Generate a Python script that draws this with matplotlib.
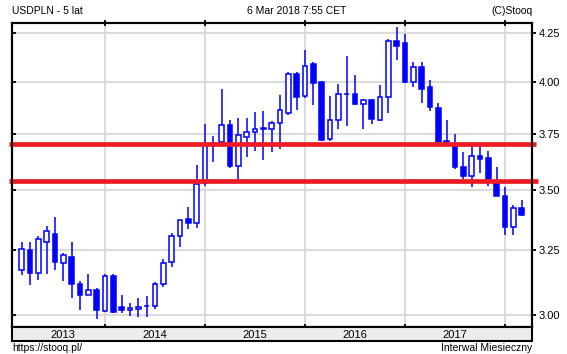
import numpy as np
import pandas as pd
import matplotlib
matplotlib.use('Agg')
import matplotlib.pyplot as plt
from matplotlib.patches import Rectangle
from matplotlib.ticker import FixedLocator, NullLocator, NullFormatter, FormatStrFormatter

plt.rcParams['font.family'] = ['Liberation Sans', 'DejaVu Sans']

# monthly USDPLN candles, Mar 2013 - Mar 2018
months = pd.date_range('2013-03-01', periods=61, freq='MS')
opens = [3.172, 3.249, 3.161, 3.283, 3.317, 3.199, 3.222, 3.118, 3.075, 3.092,
         3.013, 3.149, 3.030, 3.017, 3.020, 3.032, 3.032, 3.118, 3.201, 3.308,
         3.376, 3.359, 3.530, 3.700, 3.717, 3.793, 3.605, 3.740, 3.760, 3.780,
         3.774, 3.803, 3.851, 4.041, 3.933, 4.092, 4.000, 3.727, 3.817, 3.940,
         3.940, 3.896, 3.911, 3.817, 3.927, 4.210, 4.200, 4.000, 4.075, 3.975,
         3.874, 3.719, 3.700, 3.600, 3.560, 3.652, 3.640, 3.530, 3.475, 3.345,
         3.424]
highs = [3.284, 3.284, 3.309, 3.350, 3.384, 3.238, 3.284, 3.127, 3.154, 3.103,
         3.156, 3.157, 3.075, 3.044, 3.063, 3.072, 3.124, 3.216, 3.320, 3.375,
         3.426, 3.613, 3.800, 3.743, 3.965, 3.817, 3.828, 3.828, 3.857, 3.862,
         3.814, 3.938, 4.051, 4.052, 4.161, 4.103, 4.005, 3.931, 3.990, 4.134,
         4.036, 3.919, 3.919, 3.986, 4.220, 4.284, 4.246, 4.103, 4.103, 4.013,
         3.900, 3.817, 3.750, 3.670, 3.700, 3.700, 3.675, 3.600, 3.515, 3.438,
         3.458]
lows = [3.151, 3.112, 3.132, 3.155, 3.170, 3.128, 3.062, 3.016, 3.073, 2.985,
        3.010, 3.005, 3.008, 2.995, 2.993, 2.993, 3.020, 3.105, 3.182, 3.264,
        3.335, 3.339, 3.520, 3.624, 3.690, 3.598, 3.546, 3.647, 3.675, 3.633,
        3.668, 3.683, 3.840, 3.863, 3.925, 3.891, 3.720, 3.720, 3.774, 3.787,
        3.887, 3.774, 3.800, 3.815, 3.851, 4.110, 3.998, 3.977, 3.897, 3.858,
        3.710, 3.700, 3.595, 3.550, 3.515, 3.575, 3.520, 3.473, 3.310, 3.310,
        3.390]
closes = [3.253, 3.161, 3.295, 3.328, 3.201, 3.230, 3.116, 3.074, 3.094, 3.016,
          3.148, 3.011, 3.016, 3.025, 3.028, 3.032, 3.118, 3.199, 3.308, 3.375,
          3.360, 3.528, 3.703, 3.712, 3.793, 3.605, 3.746, 3.760, 3.774, 3.775,
          3.803, 3.865, 4.041, 3.927, 4.080, 3.996, 3.725, 3.817, 3.940, 3.940,
          3.896, 3.911, 3.820, 3.927, 4.210, 4.186, 4.000, 4.075, 3.965, 3.879,
          3.717, 3.713, 3.600, 3.560, 3.652, 3.638, 3.550, 3.477, 3.345, 3.424,
          3.394]
levels = [3.706, 3.540]
yticks = [3.00, 3.25, 3.50, 3.75, 4.00, 4.25]

W, H = 567, 354
fig = plt.figure(figsize=(W / 100, H / 100), dpi=100)
ax = fig.add_axes([12 / W, 27 / H, 520 / W, 304.5 / H])
ax.set_yscale('log')
ylim = (2.955, 4.307)
ax.set_ylim(ylim)
ax.set_xlim(-1.16, 61.24)

x = np.arange(len(months))
year_idx = [i for i, d in enumerate(months) if d.month == 1]

for yv in yticks:
    ax.axhline(yv, color='#d8d8d8', lw=1.3, zorder=0)
for xi in year_idx:
    ax.axvline(xi, color='#d8d8d8', lw=1.3, zorder=0)

blue = '#0000ff'
bw = 0.55
for i in x:
    o, h, l, c = opens[i], highs[i], lows[i], closes[i]
    ax.vlines(i, l, h, color=blue, lw=1.1, zorder=2)
    up = c >= o
    ax.add_patch(Rectangle((i - bw / 2, min(o, c)), bw, abs(c - o),
                           facecolor='white' if up else blue, edgecolor=blue,
                           lw=1.1, zorder=3))

# red support / resistance lines
ax.plot([-1.5, 61.7], [levels[0]] * 2, color='#ed1c24', lw=3.4,
        solid_capstyle='butt', clip_on=False, zorder=5)
ax.plot([-1.5, 62.0], [levels[1]] * 2, color='#ed1c24', lw=3.4,
        solid_capstyle='butt', clip_on=False, zorder=5)

ax.yaxis.set_major_locator(FixedLocator(yticks))
ax.yaxis.set_minor_locator(NullLocator())
ax.yaxis.set_major_formatter(NullFormatter())
ax.yaxis.set_minor_formatter(NullFormatter())
ax.tick_params(axis='y', left=True, right=False, direction='in', length=3, width=1.3)
ax.set_xticks(year_idx)
ax.tick_params(axis='x', top=True, bottom=True, direction='inout', length=5,
               width=1.3, labelbottom=False)
for s in ax.spines.values():
    s.set_linewidth(1.5)

ax2 = ax.twinx()
ax2.set_yscale('log')
ax2.set_ylim(ylim)
ax2.yaxis.set_major_locator(FixedLocator(yticks))
ax2.yaxis.set_minor_locator(NullLocator())
ax2.yaxis.set_major_formatter(FormatStrFormatter('%.2f'))
ax2.yaxis.set_minor_formatter(NullFormatter())
ax2.tick_params(axis='y', direction='out', length=3, width=1.3, pad=2, labelsize=8)
for s in ax2.spines.values():
    s.set_linewidth(1.5)

# year band under the chart
bx = fig.add_axes([12 / W, 13 / H, 520 / W, 14 / H])
bx.set_facecolor('#ececec')
bx.set_xlim(ax.get_xlim())
bx.set_ylim(0, 1)
bx.set_xticks([])
bx.set_yticks([])
for s in bx.spines.values():
    s.set_linewidth(1.5)
bounds = [0] + year_idx + [len(months) - 1]
for a, b in zip(bounds[:-1], bounds[1:]):
    if b - a >= 8:
        bx.text((a + b) / 2, 0.45, str(months[b - 1].year), ha='center', va='center',
                fontsize=8)

fig.text(12 / W, 1 - 11 / H, 'USDPLN - 5 lat', ha='left', va='center', fontsize=7.5)
fig.text(297 / W, 1 - 11 / H, '6 Mar 2018 7:55 CET', ha='center', va='center', fontsize=7.5)
fig.text(533 / W, 1 - 11 / H, '(C)Stooq', ha='right', va='center', fontsize=7.5)
fig.text(12 / W, 1 - 348 / H, 'https://stooq.pl/', ha='left', va='center', fontsize=7.5)
fig.text(532 / W, 1 - 348 / H, 'Interwal Miesieczny', ha='right', va='center', fontsize=7.5)

fig.savefig('out.png', dpi=100)
